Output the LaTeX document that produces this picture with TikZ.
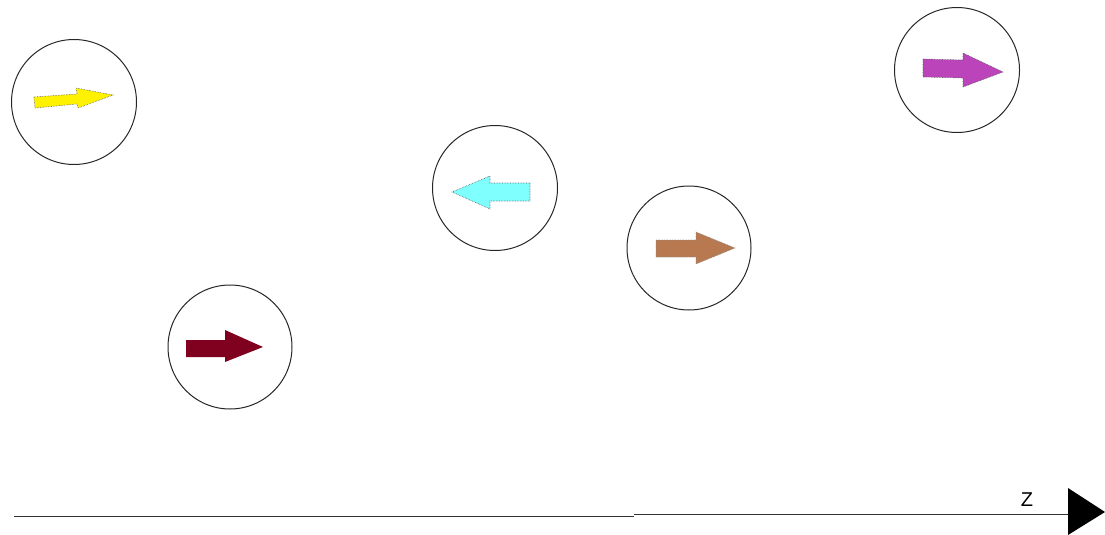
\documentclass[tikz,border=0pt]{standalone}
\usepackage{fontspec}
\setmainfont{Liberation Sans}
\begin{document}
\begin{tikzpicture}[x=1pt,y=-1pt,
  ring/.style={circle,draw=black!85,line width=1pt,minimum size=125pt,inner sep=0pt},
  blockarrow/.style={draw=black!65,densely dotted,line width=0.6pt},
  axisline/.style={line width=1pt,draw=black!80}]
\useasboundingbox (0,0) rectangle (1105,535);
\definecolor{ayellow}{HTML}{FFF200}
\definecolor{acyan}{HTML}{80FFFF}
\definecolor{amagenta}{HTML}{BB44BB}
\definecolor{adarkred}{HTML}{800020}
\definecolor{abrown}{HTML}{B87850}

% particles
\node[ring] (p1) at (74,102) {};
\node[ring] (p2) at (495,188) {};
\node[ring] (p3) at (957,70) {};
\node[ring,minimum size=124pt] (p4) at (689,248) {};
\node[ring,minimum size=124pt] (p5) at (230,347) {};

% spin arrows
\fill[ayellow] (34,97) -- (77,94) -- (76,88) -- (113,95) -- (78,108) -- (77,104) -- (35,108) -- cycle;
\draw[blockarrow] (34,97) -- (77,94) -- (76,88) -- (113,95) -- (78,108) -- (77,104) -- (35,108) -- cycle;

\fill[acyan] (530,183) -- (490,183) -- (490,176) -- (452,192) -- (490,209) -- (490,201) -- (530,201) -- cycle;
\draw[blockarrow] (530,183) -- (490,183) -- (490,176) -- (452,192) -- (490,209) -- (490,201) -- (530,201) -- cycle;

\fill[amagenta] (923,59) -- (963,60) -- (963,53) -- (1003,72) -- (963,87) -- (963,78) -- (923,77) -- cycle;
\draw[blockarrow] (923,59) -- (963,60) -- (963,53) -- (1003,72) -- (963,87) -- (963,78) -- (923,77) -- cycle;

\fill[adarkred] (186,340) -- (225,340) -- (225,330) -- (263,347) -- (225,362) -- (225,357) -- (186,357) -- cycle;

\fill[abrown] (656,240) -- (696,240) -- (696,232) -- (735,248) -- (696,264) -- (696,257) -- (656,257) -- cycle;
\draw[blockarrow,draw=black!45] (656,240) -- (696,240) -- (696,232) -- (735,248) -- (696,264) -- (696,257) -- (656,257) -- cycle;

% z axis
\coordinate (a0) at (14,516);
\coordinate (a1) at (634,516);
\coordinate (a2) at (634,514);
\coordinate (a3) at (1068,514);
\draw[axisline] (a0) -- (a1);
\draw[axisline] (a2) -- (a3);
\fill[black] (1068,488) -- (1105,512) -- (1068,535) -- cycle;
\node[font=\fontsize{20}{20}\selectfont,inner sep=0pt] (zlabel) at (1027,500) {Z};
\end{tikzpicture}
\end{document}
